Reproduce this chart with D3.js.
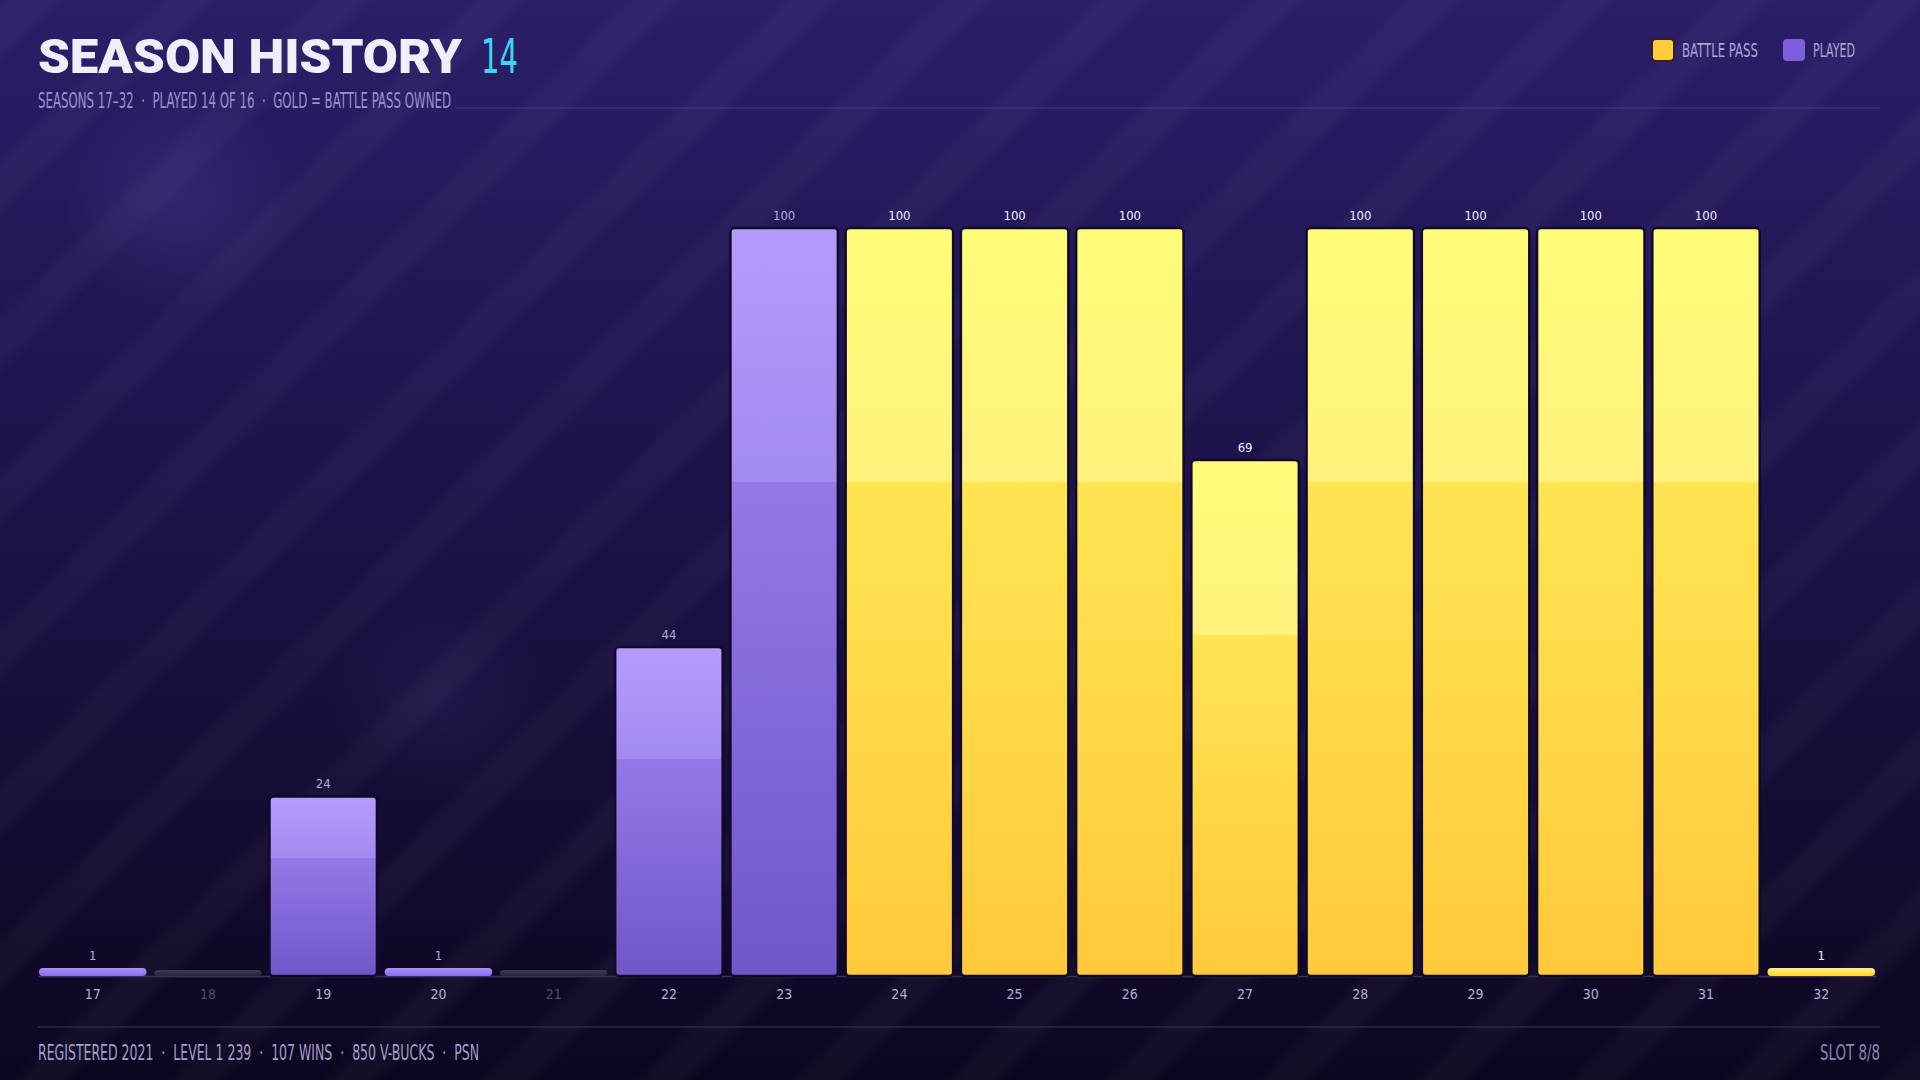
<!DOCTYPE html>
<html>
<head>
<meta charset="utf-8">
<script src="https://cdn.jsdelivr.net/npm/d3@7"></script>
<style>
  html, body { margin: 0; padding: 0; background: #140c34; }
  svg { display: block; }
</style>
</head>
<body>
<div class="canvas"></div>
<script>
// season data
const seasons = ["17", "18", "19", "20", "21", "22", "23", "24", "25", "26", "27", "28", "29", "30", "31", "32"];
const progress = [1, 0, 24, 1, 0, 44, 100, 100, 100, 100, 69, 100, 100, 100, 100, 1];
const battlePass = [false, false, false, false, false, false, false, true, true, true, true, true, true, true, true, true];
const legendLabels = ["BATTLE PASS", "PLAYED"];
const footerParts = ["REGISTERED 2021", "LEVEL 1 239", "107 WINS", "850 V-BUCKS", "PSN"];
const subtitleParts = ["SEASONS 17\u201332", "PLAYED 14 OF 16", "GOLD = BATTLE PASS OWNED"];

const W = 1920, H = 1080;
const narrow = "'Liberation Sans Narrow', 'DejaVu Sans Condensed', 'Roboto', sans-serif";

const svg = d3.select(".canvas").append("svg")
  .attr("width", W)
  .attr("height", H);

const defs = svg.append("defs");

// background gradient
const bg = defs.append("linearGradient").attr("id", "bg")
  .attr("x1", 0).attr("y1", 0).attr("x2", 0).attr("y2", 1);
bg.append("stop").attr("offset", 0).attr("stop-color", "#2a1f68");
bg.append("stop").attr("offset", 0.45).attr("stop-color", "#1c1349");
bg.append("stop").attr("offset", 1).attr("stop-color", "#0c0720");

// diagonal stripes, soft edged
const stripeGrad = defs.append("linearGradient").attr("id", "stripeGrad")
  .attr("x1", 0).attr("y1", 0).attr("x2", 1).attr("y2", 0);
stripeGrad.append("stop").attr("offset", 0).attr("stop-color", "#fff").attr("stop-opacity", 0);
stripeGrad.append("stop").attr("offset", 0.25).attr("stop-color", "#fff").attr("stop-opacity", 0.028);
stripeGrad.append("stop").attr("offset", 0.75).attr("stop-color", "#fff").attr("stop-opacity", 0.028);
stripeGrad.append("stop").attr("offset", 1).attr("stop-color", "#fff").attr("stop-opacity", 0);

const stripes = defs.append("pattern").attr("id", "stripes")
  .attr("patternUnits", "userSpaceOnUse")
  .attr("width", 110).attr("height", 110)
  .attr("patternTransform", "rotate(45)");
stripes.append("rect")
  .attr("x", 0).attr("y", 0).attr("width", 46).attr("height", 110)
  .attr("fill", "url(#stripeGrad)");

const glow = defs.append("radialGradient").attr("id", "glow");
glow.append("stop").attr("offset", 0).attr("stop-color", "#8a78d8").attr("stop-opacity", 0.14);
glow.append("stop").attr("offset", 1).attr("stop-color", "#8a78d8").attr("stop-opacity", 0);

// bar gradients: light top third, then a step to the main tone
function barGradient(id, stops) {
  const g = defs.append("linearGradient").attr("id", id)
    .attr("x1", 0).attr("y1", 0).attr("x2", 0).attr("y2", 1);
  stops.forEach(s => g.append("stop").attr("offset", s[0]).attr("stop-color", s[1]));
}
barGradient("gold", [[0, "#fffd7a"], [0.34, "#fff27c"], [0.34, "#ffe553"], [1, "#ffc93b"]]);
barGradient("purple", [[0, "#b49cff"], [0.34, "#a28bee"], [0.34, "#9379e8"], [1, "#6f57c8"]]);
barGradient("goldPill", [[0, "#fff27a"], [1, "#ffd43e"]]);
barGradient("purplePill", [[0, "#a890ff"], [1, "#8a6fe6"]]);
barGradient("emptyPill", [[0, "#3e3852"], [1, "#2a2538"]]);

svg.append("rect").attr("width", W).attr("height", H).attr("fill", "url(#bg)");
svg.append("rect").attr("width", W).attr("height", H).attr("fill", "url(#stripes)");
svg.append("ellipse").attr("cx", 180).attr("cy", 200).attr("rx", 120).attr("ry", 110).attr("fill", "url(#glow)");
svg.append("ellipse").attr("cx", 440).attr("cy", 700).attr("rx", 110).attr("ry", 100).attr("fill", "url(#glow)").attr("opacity", 0.6);

// title
svg.append("text")
  .attr("x", 38).attr("y", 73)
  .style("font-family", "Roboto, 'DejaVu Sans', sans-serif")
  .style("font-weight", 900)
  .style("font-size", "48px")
  .attr("fill", "#f1eefc")
  .attr("textLength", 424)
  .attr("lengthAdjust", "spacingAndGlyphs")
  .text("SEASON HISTORY");

svg.append("text")
  .attr("x", 481).attr("y", 73)
  .style("font-family", narrow)
  .style("font-size", "48px")
  .attr("fill", "#3fd3f2")
  .attr("textLength", 37)
  .attr("lengthAdjust", "spacingAndGlyphs")
  .text(d3.sum(progress, d => d > 0 ? 1 : 0));

svg.append("text")
  .attr("x", 38).attr("y", 108)
  .style("font-family", narrow)
  .style("font-size", "21px")
  .attr("fill", "#9b91c9")
  .attr("textLength", 413)
  .attr("lengthAdjust", "spacingAndGlyphs")
  .style("white-space", "pre")
  .text(subtitleParts.join("  \u00b7  "));

svg.append("line")
  .attr("x1", 456).attr("x2", 1880)
  .attr("y1", 108).attr("y2", 108)
  .attr("stroke", "#5a4d9a").attr("stroke-opacity", 0.6);

// legend
const legendColors = ["#ffcd3c", "#7b5fdc"];
const legendX = [1652, 1783];
const legendWidths = [76, 42];
const legend = svg.append("g").selectAll("g")
  .data(legendLabels)
  .join("g")
  .attr("transform", (d, i) => `translate(${legendX[i]}, 39)`);
legend.append("rect")
  .attr("width", 22).attr("height", 22).attr("rx", 4)
  .attr("fill", (d, i) => legendColors[i])
  .attr("stroke", (d, i) => i === 0 ? "#3a1a24" : "none")
  .attr("stroke-width", 2);
legend.append("text")
  .attr("x", 30).attr("y", 18)
  .style("font-family", narrow)
  .style("font-size", "19px")
  .attr("fill", "#aea5d6")
  .attr("textLength", (d, i) => legendWidths[i])
  .attr("lengthAdjust", "spacingAndGlyphs")
  .text(d => d);

// scales
const x = d3.scaleBand().domain(seasons).range([38, 1876]).paddingInner(0.05).paddingOuter(0);
const y = d3.scaleLinear().domain([0, 100]).range([976, 228]);

const data = seasons.map((s, i) => ({ season: s, value: progress[i], bp: battlePass[i] }));

// axis
const axis = svg.append("g")
  .attr("transform", `translate(0, ${y(0)})`)
  .call(d3.axisBottom(x).tickSize(0).tickPadding(13));
axis.select(".domain").attr("stroke", "#3a3058").attr("stroke-width", 1.5);
axis.selectAll("text")
  .style("font-family", narrow)
  .style("font-size", "14px")
  .attr("fill", (d, i) => progress[i] > 0 ? "#b4acd6" : "#51486e");

// bars
const pill = 8;
svg.append("g").selectAll("rect")
  .data(data)
  .join("rect")
  .attr("x", d => x(d.season) + 1)
  .attr("width", x.bandwidth() - 2)
  .attr("y", d => d.value === 0 ? y(0) - 6 : Math.min(y(d.value), y(0) - pill))
  .attr("height", d => d.value === 0 ? 6 : Math.max(y(0) - y(d.value), pill))
  .attr("rx", 4)
  .attr("fill", d => {
    if (d.value === 0) return "url(#emptyPill)";
    if (d.value <= 1) return d.bp ? "url(#goldPill)" : "url(#purplePill)";
    return d.bp ? "url(#gold)" : "url(#purple)";
  })
  .attr("stroke", d => d.value > 1 ? "#120a2c" : "none")
  .attr("stroke-width", 2.5);

// value labels
svg.append("g").selectAll("text")
  .data(data.filter(d => d.value > 0))
  .join("text")
  .attr("x", d => x(d.season) + x.bandwidth() / 2)
  .attr("y", d => Math.min(y(d.value), y(0) - pill) - 8)
  .attr("text-anchor", "middle")
  .style("font-family", narrow)
  .style("font-size", "13px")
  .attr("fill", d => d.bp ? "#f3f0ff" : "#b3a9da")
  .text(d => d.value);

// footer
svg.append("line")
  .attr("x1", 38).attr("x2", 1880)
  .attr("y1", 1027).attr("y2", 1027)
  .attr("stroke", "#2e2650").attr("stroke-width", 1.5);

svg.append("text")
  .attr("x", 38).attr("y", 1060)
  .style("font-family", narrow)
  .style("font-size", "22px")
  .attr("fill", "#a69dcc")
  .attr("textLength", 441)
  .attr("lengthAdjust", "spacingAndGlyphs")
  .style("white-space", "pre")
  .text(footerParts.join("  \u00b7  "));

svg.append("text")
  .attr("x", 1880).attr("y", 1060)
  .attr("text-anchor", "end")
  .style("font-family", narrow)
  .style("font-size", "22px")
  .attr("fill", "#8a82b0")
  .attr("textLength", 60)
  .attr("lengthAdjust", "spacingAndGlyphs")
  .text("SLOT 8/8");
</script>
</body>
</html>
